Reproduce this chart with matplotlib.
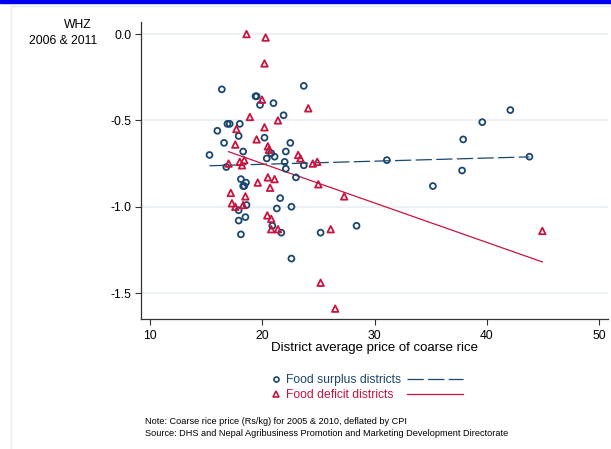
import numpy as np
import matplotlib
matplotlib.use('Agg')
import matplotlib.pyplot as plt
from matplotlib.lines import Line2D
from matplotlib.patches import Rectangle

plt.rcParams['font.family'] = ['Liberation Sans', 'DejaVu Sans']

# district price of coarse rice (Rs/kg) and mean WHZ
surplus_price = [16.4, 23.7, 19.4, 19.5, 19.8, 21.0, 21.9, 16.9, 17.1, 18.0,
                 16.0, 17.9, 20.2, 16.6, 22.5, 18.3, 22.1, 20.8, 21.1, 15.3,
                 20.4, 22.0, 23.7, 16.8, 22.1, 18.1, 23.0, 18.55, 18.4, 18.3,
                 21.6, 18.6, 17.9, 21.3, 22.6, 18.5, 17.9, 20.9, 21.7, 18.1,
                 25.2, 22.6, 42.1, 39.6, 37.9, 31.1, 43.8, 37.8, 35.2, 28.4]
surplus_whz = [-0.32, -0.30, -0.36, -0.36, -0.41, -0.40, -0.47, -0.52, -0.52, -0.52,
               -0.56, -0.59, -0.60, -0.63, -0.63, -0.68, -0.68, -0.69, -0.71, -0.70,
               -0.72, -0.74, -0.76, -0.77, -0.78, -0.84, -0.83, -0.86, -0.88, -0.88,
               -0.95, -0.99, -1.02, -1.01, -1.00, -1.06, -1.08, -1.11, -1.15, -1.16,
               -1.15, -1.30, -0.44, -0.51, -0.61, -0.73, -0.71, -0.79, -0.88, -1.11]

deficit_price = [18.6, 20.3, 20.2, 19.98, 24.1, 18.9, 21.4, 20.2, 17.7, 19.5,
                 17.6, 20.5, 20.6, 23.2, 23.4, 18.4, 17.0, 18.0, 18.2, 24.5,
                 24.9, 20.5, 21.1, 19.6, 20.7, 25.0, 17.2, 18.5, 17.3, 17.6,
                 18.3, 20.45, 20.8, 20.8, 21.4, 26.1, 25.2, 26.5, 27.3, 44.95]
deficit_whz = [0.00, -0.02, -0.17, -0.38, -0.43, -0.48, -0.50, -0.54, -0.55, -0.61,
               -0.64, -0.65, -0.67, -0.70, -0.72, -0.73, -0.75, -0.74, -0.76, -0.75,
               -0.74, -0.83, -0.84, -0.86, -0.89, -0.87, -0.92, -0.94, -0.98, -1.00,
               -0.99, -1.05, -1.07, -1.13, -1.13, -1.13, -1.44, -1.59, -0.94, -1.14]

xticks = [10, 20, 30, 40, 50]
yticks = [0.0, -0.5, -1.0, -1.5]

navy = '#1a476f'
red = '#c8143f'
grid_col = '#e8eff2'

fig = plt.figure(figsize=(6.11, 4.49), dpi=100)
W, H = 611, 449

# page frame
fig.patches.append(Rectangle((0, 1 - 2.5 / H), 1, 2.5 / H, transform=fig.transFigure,
                             color='#0000f0', zorder=0))
fig.lines.append(Line2D([11 / W, 11 / W], [0, 1 - 6 / H], transform=fig.transFigure,
                        color='#e4ecee', lw=1))
fig.lines.append(Line2D([11 / W, 1], [1 - 6 / H, 1 - 6 / H], transform=fig.transFigure,
                        color='#e4ecee', lw=1))

ax = fig.add_axes([141 / W, 1 - 319 / H, (608 - 141) / W, (319 - 22) / H])

ax.scatter(surplus_price, surplus_whz, s=18, facecolors='none', edgecolors=navy,
           linewidths=1.3, marker='o', zorder=3)
ax.scatter(deficit_price, deficit_whz, s=22, facecolors='none', edgecolors=red,
           linewidths=1.3, marker='^', zorder=3)

# linear fits
sx = np.array(surplus_price)
b1, a1 = np.polyfit(sx, surplus_whz, 1)
xs = np.array([sx.min(), sx.max()])
ax.plot(xs, a1 + b1 * xs, color=navy, lw=0.9, dashes=(13, 3.5), zorder=2)
dx = np.array(deficit_price)
b2, a2 = np.polyfit(dx, deficit_whz, 1)
xd = np.array([dx.min(), dx.max()])
ax.plot(xd, a2 + b2 * xd, color=red, lw=0.9, zorder=2)

ax.set_xlim(9.2, 50.8)
ax.set_ylim(-1.65, 0.07)
ax.set_xticks(xticks)
ax.set_yticks(yticks)
ax.set_yticklabels(['%.1f' % v for v in yticks])
ax.tick_params(labelsize=8.7, length=4, width=0.8, color='#333333', pad=3)
ax.tick_params(axis='x', pad=4)
ax.grid(axis='y', color=grid_col, lw=1.2)
ax.set_axisbelow(True)
for s in ['top', 'right']:
    ax.spines[s].set_visible(False)
for s in ['left', 'bottom']:
    ax.spines[s].set_color('#333333')
    ax.spines[s].set_linewidth(0.9)

ax.set_xlabel('District average price of coarse rice', fontsize=9.5, labelpad=0)
fig.text(92 / W, 1 - 25 / H, 'WHZ', ha='right', va='center', fontsize=8.7)
fig.text(97 / W, 1 - 41 / H, '2006 & 2011', ha='right', va='center', fontsize=8.7)

# legend
fig.lines.append(Line2D([276 / W], [1 - 379 / H], transform=fig.transFigure, marker='o',
                        ms=3.6, mfc='none', mec=navy, mew=1.2, ls='none'))
fig.text(286 / W, 1 - 380 / H, 'Food surplus districts', color=navy, fontsize=8.7,
         va='center', ha='left')
fig.lines.append(Line2D([407 / W, 463 / W], [1 - 379 / H] * 2, transform=fig.transFigure,
                        color=navy, lw=0.9, dashes=(13, 3.5)))
fig.lines.append(Line2D([276 / W], [1 - 394 / H], transform=fig.transFigure, marker='^',
                        ms=3.9, mfc='none', mec=red, mew=1.2, ls='none'))
fig.text(286 / W, 1 - 395 / H, 'Food deficit districts', color=red, fontsize=8.7,
         va='center', ha='left')
fig.lines.append(Line2D([407 / W, 463 / W], [1 - 394 / H] * 2, transform=fig.transFigure,
                        color=red, lw=0.9))

fig.text(145 / W, 1 - 422 / H, 'Note: Coarse rice price (Rs/kg) for 2005 & 2010, deflated by CPI',
         fontsize=6.6, va='center')
fig.text(145 / W, 1 - 433 / H,
         'Source: DHS and Nepal Agribusiness Promotion and Marketing Development Directorate',
         fontsize=6.6, va='center')

fig.savefig('out.png', dpi=100)
